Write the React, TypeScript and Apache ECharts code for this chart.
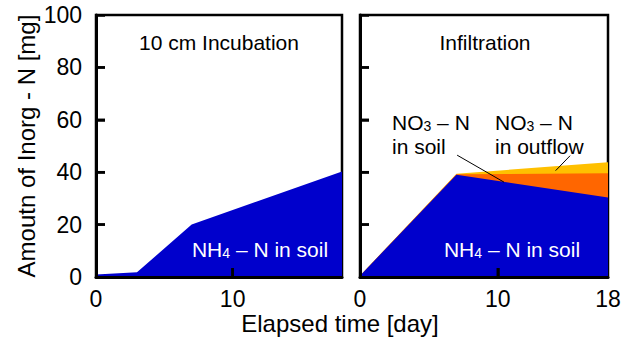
import { useEffect, useRef } from 'react';
import * as echarts from 'echarts';

const FONT = '"Liberation Sans", Arial, Helvetica, sans-serif';

// Panel 1: 10 cm Incubation
const incubationDays = [0, 3, 7, 18];
const incubationNH4 = [1, 1.8, 20, 40.3];

// Panel 2: Infiltration (stacked)
const infiltrationDays = [0, 7, 18];
const infiltrationNH4Soil = [0.5, 39, 30.3];
const infiltrationNO3Soil = [0, 0.2, 9.3];
const infiltrationNO3Outflow = [0, 0.2, 4.2];

const panelTitles = ['10 cm Incubation', 'Infiltration'];
const yAxisName = 'Amoutn of Inorg - N [mg]';
const xAxisName = 'Elapsed time [day]';
const leftXLabels = [0, 10];
const rightXLabels = [0, 10, 18];
const xInnerTicks = [10];
const yInnerTicks = [20, 40, 60, 80];

// leader lines for annotations, in data coordinates of the infiltration panel
const leaderSoil = [[7.05, 46.5], [10.45, 36.2]];
const leaderOutflow = [[15.25, 46.3], [14.2, 40.6]];

const zip = (xs: number[], ys: number[]) => xs.map((x, i) => [x, ys[i]]);
const addArr = (a: number[], b: number[]) => a.map((v, i) => v + b[i]);

const BLUE = '#0000CC';
const ORANGE = '#FF6600';
const YELLOW = '#FFC000';

const W = 628;
const H = 338;
const GRIDS = [
  { left: 96, right: 286, top: 15, bottom: 61 },
  { left: 360, right: 20, top: 15, bottom: 61 },
];
const X_MAX = 18;
const Y_MAX = 100;
const TICK_LEN = 9;
const TICK_W = 2.5;

function subLabel(main: string, sub: string, rest: string, color: string) {
  return {
    text: `{a|${main}}{s|${sub}}{a|${rest}}`,
    rich: {
      a: { fontSize: 21, lineHeight: 22, fill: color, fontFamily: FONT },
      s: { fontSize: 14, lineHeight: 8, verticalAlign: 'bottom', fill: color, fontFamily: FONT },
    },
  };
}

export default function App() {
  const ref = useRef<HTMLDivElement>(null);
  useEffect(() => {
    if (!ref.current) return;
    const chart = echarts.init(ref.current, undefined, { renderer: 'svg' });

    const cumSoil = addArr(infiltrationNH4Soil, infiltrationNO3Soil);
    const cumTotal = addArr(cumSoil, infiltrationNO3Outflow);

    const xAxisBase = (gridIndex: number, labels: number[]) => ({
      gridIndex,
      type: 'value',
      min: 0,
      max: X_MAX,
      interval: 10,
      z: 10,
      axisLine: { show: true, onZero: false, lineStyle: { color: '#000', width: 3 } },
      axisTick: { show: true, inside: true, length: TICK_LEN, customValues: xInnerTicks, lineStyle: { color: '#000', width: TICK_W } },
      axisLabel: { customValues: labels, fontSize: 23, color: '#000', margin: 10, fontFamily: FONT },
      splitLine: { show: false },
    });

    const yAxisBase = (gridIndex: number, showLabels: boolean) => ({
      gridIndex,
      type: 'value',
      min: 0,
      max: Y_MAX,
      interval: 20,
      z: 10,
      name: showLabels ? yAxisName : '',
      nameLocation: 'middle',
      nameRotate: 90,
      nameGap: 58,
      nameTextStyle: { fontSize: 24, color: '#000', fontFamily: FONT },
      axisLine: { show: true, onZero: false, lineStyle: { color: '#000', width: 3 } },
      axisTick: { show: true, inside: true, length: TICK_LEN, lineStyle: { color: '#000', width: TICK_W } },
      axisLabel: { show: showLabels, fontSize: 23, color: '#000', margin: 14, fontFamily: FONT },
      splitLine: { show: false },
    });

    const areaSeries = (name: string, xi: number, xs: number[], ys: number[], color: string) => ({
      name,
      type: 'line',
      xAxisIndex: xi,
      yAxisIndex: xi,
      data: zip(xs, ys),
      symbol: 'none',
      lineStyle: { width: 0, color },
      itemStyle: { color },
      areaStyle: { color, opacity: 1, origin: 'start' },
      silent: true,
    });

    const seg = (a: number[], b: number[]) => [{ coord: a }, { coord: b }];

    // inward tick stubs drawn as filled rects (decoration of the frame)
    const tickRects: any[] = [];
    GRIDS.forEach((g) => {
      const gw = W - g.left - g.right;
      const gh = H - g.top - g.bottom;
      const y0 = H - g.bottom;
      yInnerTicks.forEach((v) => {
        const py = y0 - (v / Y_MAX) * gh;
        tickRects.push({ type: 'rect', z: 120, silent: true, shape: { x: g.left, y: py - TICK_W / 2, width: TICK_LEN, height: TICK_W }, style: { fill: '#000' } });
      });
      xInnerTicks.forEach((v) => {
        const px = g.left + (v / X_MAX) * gw;
        tickRects.push({ type: 'rect', z: 120, silent: true, shape: { x: px - TICK_W / 2, y: y0 - TICK_LEN, width: TICK_W, height: TICK_LEN }, style: { fill: '#000' } });
      });
    });

    const centered = { align: 'center', verticalAlign: 'middle', textAlign: 'center', textVerticalAlign: 'middle' };
    const leftMid = { align: 'left', verticalAlign: 'middle', textAlign: 'left', textVerticalAlign: 'middle' };

    chart.setOption({
      animation: false,
      grid: GRIDS.map((g) => ({ ...g, show: true, borderColor: '#000', borderWidth: 2.5 })),
      xAxis: [xAxisBase(0, leftXLabels), xAxisBase(1, rightXLabels)],
      yAxis: [yAxisBase(0, true), yAxisBase(1, false)],
      series: [
        areaSeries('NH4-N in soil (incubation)', 0, incubationDays, incubationNH4, BLUE),
        areaSeries('NO3-N in outflow', 1, infiltrationDays, cumTotal, YELLOW),
        areaSeries('NO3-N in soil', 1, infiltrationDays, cumSoil, ORANGE),
        areaSeries('NH4-N in soil', 1, infiltrationDays, infiltrationNH4Soil, BLUE),
        {
          name: 'leaders',
          type: 'line',
          xAxisIndex: 1,
          yAxisIndex: 1,
          data: [],
          silent: true,
          markLine: {
            silent: true,
            symbol: 'none',
            label: { show: false },
            emphasis: { disabled: true },
            lineStyle: { color: '#000', width: 1, type: 'solid' },
            data: [seg(leaderSoil[0], leaderSoil[1]), seg(leaderOutflow[0], leaderOutflow[1])],
          },
        },
      ],
      graphic: [
        ...tickRects,
        { type: 'text', x: 219, y: 42, z: 100, style: { text: panelTitles[0], fontSize: 21, fontFamily: FONT, fill: '#000', ...centered } },
        { type: 'text', x: 485, y: 42, z: 100, style: { text: panelTitles[1], fontSize: 21, fontFamily: FONT, fill: '#000', ...centered } },
        { type: 'text', x: 340, y: 323, z: 100, style: { text: xAxisName, fontSize: 24, fontFamily: FONT, fill: '#000', ...centered } },
        { type: 'text', x: 260, y: 249, z: 100, style: { ...subLabel('NH', '4', ' \u2013 N in soil', '#fff'), ...centered } },
        { type: 'text', x: 512, y: 249, z: 100, style: { ...subLabel('NH', '4', ' \u2013 N in soil', '#fff'), ...centered } },
        { type: 'text', x: 392, y: 122, z: 100, style: { ...subLabel('NO', '3', ' \u2013 N', '#000'), ...leftMid } },
        { type: 'text', x: 392, y: 146, z: 100, style: { text: 'in soil', fontSize: 21, lineHeight: 22, fontFamily: FONT, fill: '#000', ...leftMid } },
        { type: 'text', x: 495, y: 122, z: 100, style: { ...subLabel('NO', '3', ' \u2013 N', '#000'), ...leftMid } },
        { type: 'text', x: 495, y: 146, z: 100, style: { text: 'in outflow', fontSize: 21, lineHeight: 22, fontFamily: FONT, fill: '#000', ...leftMid } },
      ],
    });
    return () => chart.dispose();
  }, []);
  return <div ref={ref} style={{ width: W, height: H, position: 'absolute', left: 0, top: 0 }} />;
}
